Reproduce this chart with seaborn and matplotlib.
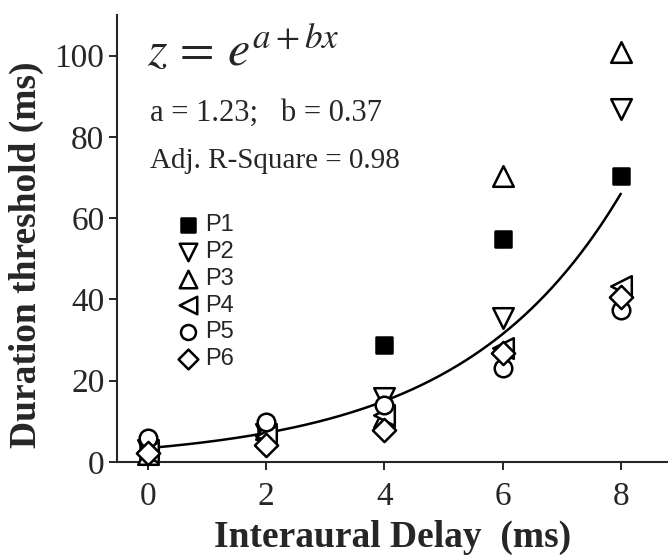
import numpy as np
import matplotlib
matplotlib.use("Agg")
import matplotlib.pyplot as plt
import seaborn as sns

# Data
delays = [0, 2, 4, 6, 8]
participants = ["P1", "P2", "P3", "P4", "P5", "P6"]
p1 = [2.5, 7.5, 28.9, 54.8, 70.4]
p2 = [3.0, 7.0, 15.8, 35.5, 87.0]
p3 = [2.0, 8.0, 11.0, 70.4, 101.0]
p4 = [2.5, 6.5, 11.5, 28.0, 43.2]
p5 = [5.9, 9.9, 14.0, 23.2, 37.5]
p6 = [2.2, 4.2, 7.9, 26.9, 40.5]
fit_a = 1.23
fit_b = 0.37
adj_r2 = 0.98

series = [p1, p2, p3, p4, p5, p6]
markers = ["s", "v", "^", "<", "o", "D"]
faces = ["black", "white", "white", "white", "white", "white"]
sizes = [140, 220, 220, 220, 160, 140]

sns.set_style("ticks")
plt.rcParams["font.family"] = ["Liberation Serif", "DejaVu Serif"]
plt.rcParams["mathtext.fontset"] = "stix"

fig = plt.figure(figsize=(6.68, 5.6), dpi=100)
ax = fig.add_axes([0.175, 0.175, 0.825, 0.798])

# fitted exponential curve
xs = np.linspace(0, 8, 200)
sns.lineplot(x=xs, y=np.exp(fit_a + fit_b * xs), color="black", linewidth=1.8, ax=ax, zorder=2)

for name, vals, m, fc, sz in zip(participants, series, markers, faces, sizes):
    sns.scatterplot(x=delays, y=vals, marker=m, s=sz, color=fc, edgecolor="black",
                    linewidth=1.8, label=name, ax=ax, zorder=3, clip_on=False)

ax.set_xlim(-0.53, 8.8)
ax.set_ylim(0, 110)
ax.set_xticks([0, 2, 4, 6, 8])
ax.set_yticks([0, 20, 40, 60, 80, 100])
ax.tick_params(axis="both", labelsize=24, length=6, width=1.4, direction="out", pad=3)
ax.tick_params(axis="x", pad=8)
for side in ["top", "right"]:
    ax.spines[side].set_visible(False)
for side in ["left", "bottom"]:
    ax.spines[side].set_linewidth(1.5)

ax.set_xlabel("Interaural Delay  (ms)", fontsize=27, fontweight="bold", labelpad=6)
ax.set_ylabel("Duration threshold (ms)", fontsize=27, fontweight="bold")
ax.yaxis.set_label_coords(-0.132, 0.463)

ax.text(0.055, 0.92, r"$z\,=\,e^{a+bx}$", transform=ax.transAxes, fontsize=36, va="center")
ax.text(0.06, 0.78, f"a = {fit_a:.2f};   b = {fit_b:.2f}", transform=ax.transAxes,
        fontsize=22, va="center")
ax.text(0.06, 0.674, f"Adj. R-Square = {adj_r2:.2f}", transform=ax.transAxes,
        fontsize=21, va="center")

leg = ax.legend(loc="upper left", bbox_to_anchor=(0.09, 0.575), frameon=False,
                prop={"family": "Liberation Sans", "size": 17}, handletextpad=0.25,
                handlelength=1.0, labelspacing=0.2, markerscale=0.85, borderaxespad=0)

fig.savefig("out.png", dpi=100)
